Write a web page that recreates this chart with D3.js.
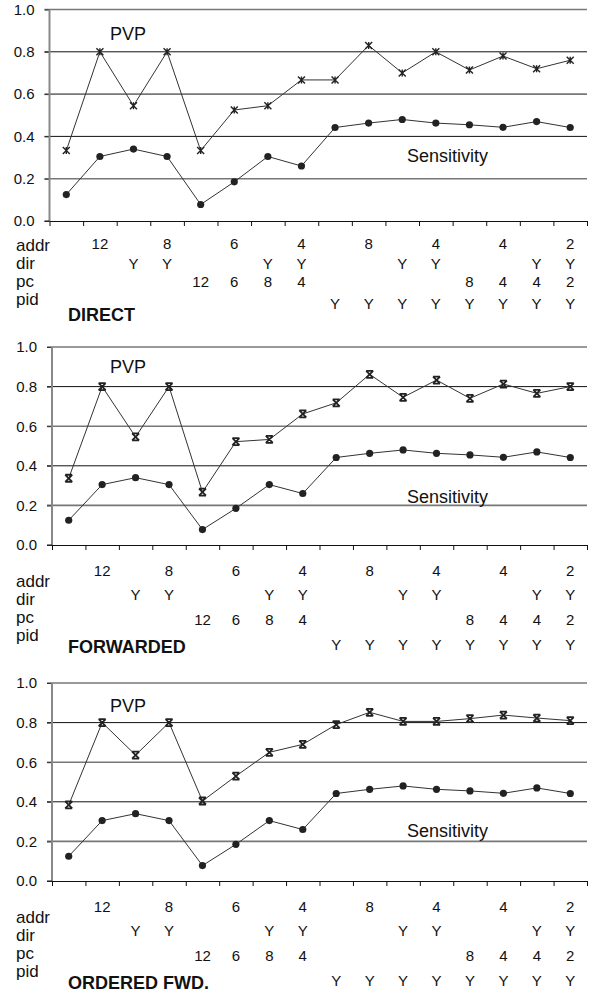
<!DOCTYPE html>
<html>
<head>
<meta charset="utf-8">
<script src="https://cdn.jsdelivr.net/npm/d3@7"></script>
<style>
  body { margin: 0; background: #fff; }
  svg { display: block; font-family: "Liberation Sans", Arial, sans-serif; }
</style>
</head>
<body>
<svg id="chart" width="592" height="994"></svg>
<script>
// configurations along the x axis
const configs = [1, 2, 3, 4, 5, 6, 7, 8, 9, 10, 11, 12, 13, 14, 15, 16];

// sensitivity is the same in all three panels
const sensitivity = [0.125, 0.305, 0.34, 0.305, 0.078, 0.185, 0.305, 0.26, 0.442, 0.463, 0.48, 0.463, 0.455, 0.443, 0.47, 0.442];

const pvpDirect = [0.333, 0.80, 0.545, 0.80, 0.333, 0.525, 0.545, 0.667, 0.667, 0.83, 0.70, 0.80, 0.714, 0.78, 0.72, 0.76];
const pvpForwarded = [0.337, 0.80, 0.546, 0.80, 0.267, 0.522, 0.533, 0.662, 0.718, 0.862, 0.746, 0.833, 0.741, 0.813, 0.766, 0.80];
const pvpOrdered = [0.384, 0.80, 0.636, 0.80, 0.404, 0.53, 0.65, 0.69, 0.79, 0.852, 0.806, 0.806, 0.82, 0.838, 0.823, 0.81];

const yTicks = [0, 0.2, 0.4, 0.6, 0.8, 1.0];

// table under each panel
const rowNames = ["addr", "dir", "pc", "pid"];
const addrRow = ["", "12", "", "8", "", "6", "", "4", "", "8", "", "4", "", "4", "", "2"];
const dirRow  = ["", "", "Y", "Y", "", "", "Y", "Y", "", "", "Y", "Y", "", "", "Y", "Y"];
const pcRow   = ["", "", "", "", "12", "6", "8", "4", "", "", "", "", "8", "4", "4", "2"];
const pidRow  = ["", "", "", "", "", "", "", "", "Y", "Y", "Y", "Y", "Y", "Y", "Y", "Y"];
const tableRows = [addrRow, dirRow, pcRow, pidRow];

const panelTitles = ["DIRECT", "FORWARDED", "ORDERED FWD."];
const panelPvp = [pvpDirect, pvpForwarded, pvpOrdered];

// layout for each panel
const panels = [
  { left: 49.5, right: 587, top: 9.5, bottom: 221, labelY: [251, 269, 287, 305], valueY: [249, 269, 287, 309], titleY: 321, marker: "star", pvpLabel: 0.855, sensLabel: 0.28 },
  { left: 52, right: 587, top: 347, bottom: 545, labelY: [587, 605, 623, 641], valueY: [576, 600, 625, 650], titleY: 653, marker: "bow", pvpLabel: 0.87, sensLabel: 0.21 },
  { left: 52, right: 587, top: 683, bottom: 881, labelY: [923, 941, 959, 977], valueY: [912, 936, 961, 986], titleY: 989, marker: "bow", pvpLabel: 0.855, sensLabel: 0.22 }
];

const svg = d3.select("#chart");

function markerPath(type, s) {
  if (type === "star") {
    return `M${-s},${-s}L${s},${s}M${-s},${s}L${s},${-s}M0,${-s}L0,${s}`;
  }
  return `M${-s},${-s}L${s},${s}M${-s},${s}L${s},${-s}M${-s},${-s}L${s},${-s}M${-s},${s}L${s},${s}`;
}

panels.forEach((p, pi) => {
  const g = svg.append("g");

  const x = d3.scaleBand()
    .domain(configs)
    .range([p.left, p.right])
    .padding(0);

  const xEdge = d3.scaleLinear()
    .domain([0, configs.length])
    .range([p.left, p.right]);

  const y = d3.scaleLinear()
    .domain([0, 1])
    .range([p.bottom, p.top]);

  // gridlines
  g.append("g")
    .selectAll("line")
    .data(yTicks.filter(d => d > 0))
    .enter().append("line")
    .attr("x1", p.left - 5)
    .attr("x2", p.right)
    .attr("y1", d => y(d))
    .attr("y2", d => y(d))
    .attr("stroke", (d, i) => i % 2 === 0 ? "#777" : "#111")
    .attr("stroke-width", (d, i) => i % 2 === 0 ? 1.6 : 1);

  // y axis
  const yAxis = g.append("g")
    .attr("transform", `translate(${p.left},0)`)
    .call(d3.axisLeft(y).tickValues(yTicks).tickFormat(d3.format(".1f")).tickSize(5).tickPadding(10));
  yAxis.select(".domain").remove();
  yAxis.selectAll(".tick line").attr("stroke", "#333");
  yAxis.selectAll("text").attr("font-size", 15).attr("fill", "#111")
    .attr("font-family", "Liberation Sans, Arial, sans-serif");

  g.append("line")
    .attr("x1", p.left).attr("x2", p.left)
    .attr("y1", y(1)).attr("y2", y(0))
    .attr("stroke", "#888").attr("stroke-width", 2);

  // x axis with ticks at category edges
  const xAxis = g.append("g")
    .attr("transform", `translate(0,${p.bottom})`)
    .call(d3.axisBottom(xEdge).tickValues(d3.range(0, configs.length + 1)).tickFormat("").tickSize(5).tickSizeOuter(0));
  xAxis.select(".domain").attr("stroke", "#111");
  xAxis.selectAll(".tick line").attr("stroke", "#111");
  g.append("line")
    .attr("x1", p.left - 5).attr("x2", p.left)
    .attr("y1", p.bottom).attr("y2", p.bottom)
    .attr("stroke", "#111");

  const cx = i => x(configs[i]) + x.bandwidth() / 2;

  const line = d3.line()
    .x((d, i) => cx(i))
    .y(d => y(d));

  // PVP series
  const pvp = panelPvp[pi];
  g.append("path")
    .datum(pvp)
    .attr("d", line)
    .attr("fill", "none")
    .attr("stroke", "#333")
    .attr("stroke-width", 1);

  g.selectAll(".pvp")
    .data(pvp)
    .enter().append("path")
    .attr("class", "pvp")
    .attr("transform", (d, i) => `translate(${cx(i)},${y(d)})`)
    .attr("d", markerPath(p.marker, 3.5))
    .attr("fill", "none")
    .attr("stroke", "#222")
    .attr("stroke-width", p.marker === "star" ? 1.4 : 1.8);

  // Sensitivity series
  g.append("path")
    .datum(sensitivity)
    .attr("d", line)
    .attr("fill", "none")
    .attr("stroke", "#333")
    .attr("stroke-width", 1);

  g.selectAll(".sens")
    .data(sensitivity)
    .enter().append("circle")
    .attr("class", "sens")
    .attr("cx", (d, i) => cx(i))
    .attr("cy", d => y(d))
    .attr("r", 3.6)
    .attr("fill", "#222");

  // series labels
  g.append("text")
    .attr("x", 110)
    .attr("y", y(p.pvpLabel))
    .attr("font-size", 18)
    .attr("fill", "#111")
    .text("PVP");

  g.append("text")
    .attr("x", 407)
    .attr("y", y(p.sensLabel))
    .attr("font-size", 18)
    .attr("fill", "#111")
    .text("Sensitivity");

  // table rows
  rowNames.forEach((name, r) => {
    g.append("text")
      .attr("x", 16)
      .attr("y", p.labelY[r])
      .attr("font-size", 17)
      .attr("fill", "#111")
      .text(name);

    g.selectAll(".cell" + r)
      .data(tableRows[r])
      .enter().append("text")
      .attr("x", (d, i) => cx(i))
      .attr("y", p.valueY[r])
      .attr("text-anchor", "middle")
      .attr("font-size", 15)
      .attr("fill", "#111")
      .text(d => d);
  });

  g.append("text")
    .attr("x", 68)
    .attr("y", p.titleY)
    .attr("font-size", 18)
    .attr("font-weight", "bold")
    .attr("fill", "#111")
    .text(panelTitles[pi]);
});
</script>
</body>
</html>
